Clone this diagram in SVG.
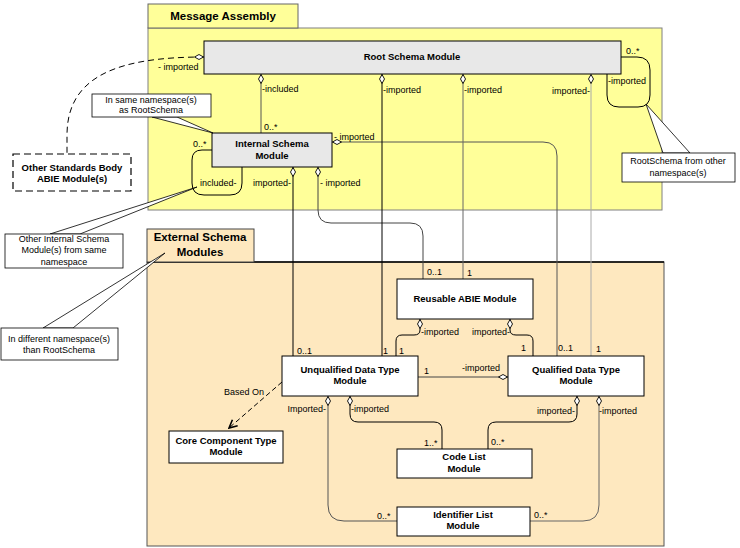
<svg xmlns="http://www.w3.org/2000/svg" width="740" height="548" viewBox="0 0 740 548">
<defs>
<marker id="dia" viewBox="0 0 10 6" refX="0" refY="3" markerWidth="10" markerHeight="6" markerUnits="userSpaceOnUse" orient="auto">
<path d="M0.5,3 L5,0.5 L9.5,3 L5,5.5 Z" fill="#fff" stroke="#000" stroke-width="0.9"/>
</marker>
<marker id="arr" viewBox="0 0 10 10" refX="9" refY="5" markerWidth="10" markerHeight="10" markerUnits="userSpaceOnUse" orient="auto">
<path d="M1,1 L9,5 L1,9" fill="none" stroke="#000" stroke-width="1.6"/>
</marker>
<style>
text{font-family:"Liberation Sans",Arial,sans-serif;fill:#000}
.t{font-size:9.5px;font-weight:bold;text-anchor:middle}
.h{font-size:11.5px;font-weight:bold;text-anchor:middle}
.l{font-size:9px}
.e{text-anchor:end}
.n{font-size:9px;text-anchor:middle}
.gbox{fill:#e8e8e8;stroke:#000;stroke-width:1}
.wbox{fill:#fff;stroke:#000;stroke-width:1}
.note{fill:#fff;stroke:#000;stroke-width:0.8}
.c{fill:none;stroke-width:1}
</style>
</defs>

<g id="message-assembly">
<rect x="148" y="28" width="514" height="182" fill="#ffff99" stroke="#808080" stroke-width="1"/>
<rect x="148" y="4" width="150" height="24" fill="#ffff99" stroke="#666" stroke-width="1"/>
<text class="h" x="223" y="20">Message Assembly</text>
</g>

<g id="external-schema-modules">
<rect x="147" y="262" width="517" height="284" fill="#fee8bf" stroke="#555" stroke-width="1"/>
<line x1="147" y1="262" x2="664" y2="262" stroke="#000" stroke-width="1.5"/>
<rect x="147" y="229" width="107" height="33" fill="#fee8bf" stroke="#444" stroke-width="1"/>
<text class="h" x="200" y="241">External Schema</text>
<text class="h" x="200" y="256">Modules</text>
</g>

<g id="connectors">
<path class="c" d="M204,57 C120,57 67,75 67,135 L67,154" stroke="#000" stroke-dasharray="6,4" marker-start="url(#dia)"/>
<path class="c" d="M261,74 L261,133" stroke="#555" marker-start="url(#dia)"/>
<path class="c" d="M212,150 L202,150 Q192,150 192,160 L192,183 Q192,195 204,195 L230,195 Q242,195 242,183 L242,167" stroke="#000"/>
<path class="c" d="M621,57 L637,57 Q650,57 650,70 L650,95 Q650,107 638,107 L619,107 Q607,107 607,95 L607,74" stroke="#000"/>
<path class="c" d="M293,167 L293,356" stroke="#000" marker-start="url(#dia)"/>
<path class="c" d="M318,167 L318,210 Q318,223 331,223 L410,223 Q423,223 423,236 L423,279" stroke="#444" marker-start="url(#dia)"/>
<path class="c" d="M332,142 L543,142 Q557,142 557,156 L557,356" stroke="#555" marker-start="url(#dia)"/>
<path class="c" d="M382,74 L382,356" stroke="#000" marker-start="url(#dia)"/>
<path class="c" d="M463,74 L463,279" stroke="#666" marker-start="url(#dia)"/>
<path class="c" d="M591,74 L591,356" stroke="#aaa" marker-start="url(#dia)"/>
<path class="c" d="M420,319 L420,330 Q420,335 414,335 L402,335 Q396,335 396,341 L396,356" stroke="#000" marker-start="url(#dia)"/>
<path class="c" d="M510,319 L510,330 Q510,335 516,335 L527,335 Q533,335 533,341 L533,356" stroke="#000" marker-start="url(#dia)"/>
<path class="c" d="M508,377 L418,377" stroke="#444" marker-start="url(#dia)"/>
<path class="c" d="M282,382 L229,428" stroke="#000" stroke-dasharray="5,3" marker-end="url(#arr)"/>
<path class="c" d="M328,396 L328,505 Q328,521 344,521 L397,521" stroke="#555" marker-start="url(#dia)"/>
<path class="c" d="M350,396 L350,414 Q350,422 358,422 L434,422 Q442,422 442,430 L442,449" stroke="#000" marker-start="url(#dia)"/>
<path class="c" d="M577,396 L577,414 Q577,422 569,422 L496,422 Q488,422 488,430 L488,449" stroke="#000" marker-start="url(#dia)"/>
<path class="c" d="M599,396 L599,505 Q599,521 583,521 L530,521" stroke="#666" marker-start="url(#dia)"/>
</g>

<g id="connector-labels">
<text class="l" x="158" y="70">- imported</text>
<text class="l" x="262" y="92">-included</text>
<text class="l" x="264" y="130">0..*</text>
<text class="l" x="193" y="147">0..*</text>
<text class="l" x="200" y="186">included-</text>
<text class="l e" x="291" y="186">imported-</text>
<text class="l" x="320" y="186">- imported</text>
<text class="l" x="334" y="140">- imported</text>
<text class="l" x="383" y="93">-imported</text>
<text class="l" x="464" y="93">-imported</text>
<text class="l e" x="590" y="94">imported-</text>
<text class="l" x="626" y="54">0..*</text>
<text class="l" x="608" y="84">-imported</text>
<text class="l" x="427" y="275">0..1</text>
<text class="l" x="467" y="276">1</text>
<text class="l" x="297" y="354">0..1</text>
<text class="l" x="383" y="354">1</text>
<text class="l" x="399" y="354">1</text>
<text class="l" x="421" y="335">-imported</text>
<text class="l e" x="510" y="335">imported-</text>
<text class="l" x="521" y="351">1</text>
<text class="l" x="558" y="351">0..1</text>
<text class="l" x="596" y="352">1</text>
<text class="l" x="424" y="374">1</text>
<text class="l" x="462" y="371">-imported</text>
<text class="l" x="224" y="395">Based On</text>
<text class="l e" x="326" y="412">Imported-</text>
<text class="l" x="351" y="412">-imported</text>
<text class="l" x="424" y="446">1..*</text>
<text class="l" x="377" y="519">0..*</text>
<text class="l e" x="575" y="414">imported-</text>
<text class="l" x="599" y="414">-imported</text>
<text class="l" x="491" y="445">0..*</text>
<text class="l" x="534" y="518">0..*</text>
</g>

<g id="root-schema-module">
<rect class="gbox" x="204" y="41" width="417" height="33"/>
<text class="t" x="412" y="60">Root Schema Module</text>
</g>

<g id="internal-schema-module">
<rect class="gbox" x="212" y="133" width="120" height="34"/>
<text class="t" x="272" y="147">Internal Schema</text>
<text class="t" x="272" y="159">Module</text>
</g>

<g id="other-standards-body">
<rect x="13" y="154" width="118" height="37" fill="#fff" stroke="#000" stroke-width="1.2" stroke-dasharray="7,4"/>
<text class="t" x="72" y="171">Other Standards Body</text>
<text class="t" x="72" y="182">ABIE Module(s)</text>
</g>

<g id="note-same-namespace">
<polygon class="note" points="152,117 177,117 213,133"/>
<rect class="note" x="92" y="94" width="119" height="23"/>
<text class="n" x="151" y="103">In same namespace(s)</text>
<text class="n" x="151" y="113">as RootSchema</text>
</g>

<g id="note-other-internal">
<polygon class="note" points="50,234 80,234 197,187"/>
<rect class="note" x="5" y="234" width="118" height="34"/>
<text class="n" x="64" y="242">Other Internal Schema</text>
<text class="n" x="64" y="253">Module(s) from same</text>
<text class="n" x="64" y="265">namespace</text>
</g>

<g id="note-different-namespace">
<polygon class="note" points="43,328 73,328 165,253"/>
<rect class="note" x="1" y="328" width="117" height="32"/>
<text class="n" x="59" y="342">In different namespace(s)</text>
<text class="n" x="59" y="353">than RootSchema</text>
</g>

<g id="note-root-other-namespace">
<polygon class="note" points="663,153 690,153 646,104"/>
<rect class="note" x="622" y="153" width="113" height="29"/>
<text class="n" x="678" y="164">RootSchema from other</text>
<text class="n" x="678" y="176">namespace(s)</text>
</g>

<g id="reusable-abie-module">
<rect class="wbox" x="397" y="279" width="136" height="40"/>
<text class="t" x="465" y="302">Reusable ABIE Module</text>
</g>

<g id="unqualified-data-type-module">
<rect class="wbox" x="282" y="356" width="136" height="40"/>
<text class="t" x="350" y="373">Unqualified Data Type</text>
<text class="t" x="350" y="384">Module</text>
</g>

<g id="qualified-data-type-module">
<rect class="wbox" x="508" y="356" width="136" height="40"/>
<text class="t" x="576" y="373">Qualified Data Type</text>
<text class="t" x="576" y="384">Module</text>
</g>

<g id="core-component-type-module">
<rect class="wbox" x="169" y="431" width="114" height="32"/>
<text class="t" x="226" y="444">Core Component Type</text>
<text class="t" x="226" y="455">Module</text>
</g>

<g id="code-list-module">
<rect class="wbox" x="397" y="449" width="135" height="29"/>
<text class="t" x="464" y="460">Code List</text>
<text class="t" x="464" y="472">Module</text>
</g>

<g id="identifier-list-module">
<rect class="wbox" x="397" y="507" width="133" height="29"/>
<text class="t" x="463" y="518">Identifier List</text>
<text class="t" x="463" y="529">Module</text>
</g>
</svg>
